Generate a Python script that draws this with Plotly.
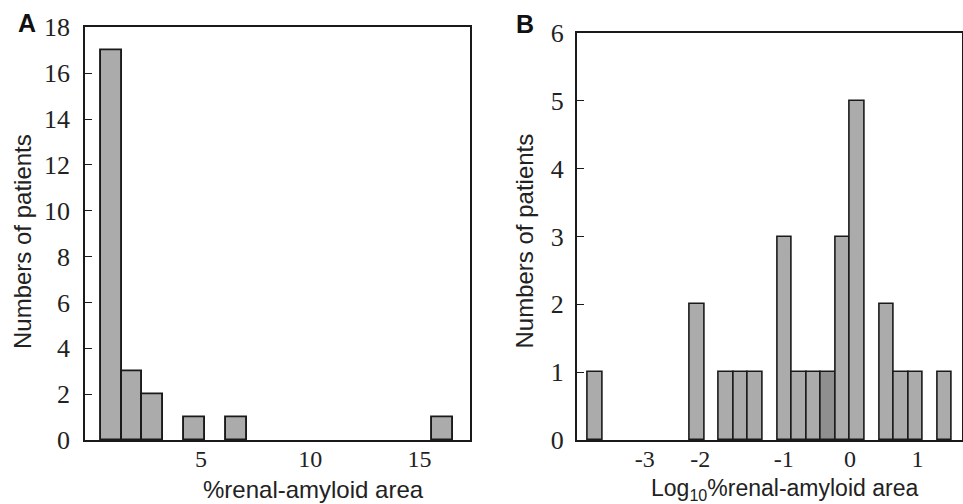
import plotly.graph_objects as go

# Panel A: histogram of %renal-amyloid area (bin centers)
a_centers = [0.886, 1.84, 2.79, 4.70, 6.61, 16.06]
a_counts = [17, 3, 2, 1, 1, 1]
a_bin_width = 0.953
a_xticks = [5, 10, 15]
a_xticktext = ["5", "10", "15"]
a_yticks = [0, 2, 4, 6, 8, 10, 12, 14, 16, 18]

# Panel B: histogram of log10 %renal-amyloid area
b_centers = [-3.778, -2.266, -1.834, -1.618, -1.402, -0.970, -0.754, -0.538,
             -0.322, -0.106, 0.110, 0.542, 0.758, 0.974, 1.406]
b_counts = [1, 2, 1, 1, 1, 3, 1, 1, 1, 3, 5, 2, 1, 1, 1]
b_dark = [False, False, False, False, False, False, False, False,
          True, False, False, False, False, False, False]
b_bin_width = 0.216
b_xticks = [-3.04, -2.22, -0.98, 0, 1.0]
b_xticktext = ["-3", "-2", "-1", "0", "1"]
b_yticks = [0, 1, 2, 3, 4, 5, 6]

FILL = "#ababab"
DARK = "#8f8f8f"
LINE = "#1a1a1a"
SERIF = "Liberation Serif"
SANS = "Liberation Sans"

fig = go.Figure()
fig.add_trace(go.Bar(
    x=a_centers, y=a_counts, width=a_bin_width,
    marker=dict(color=FILL, line=dict(color=LINE, width=1.9)),
    xaxis="x", yaxis="y", showlegend=False, hoverinfo="x+y"))
fig.add_trace(go.Bar(
    x=b_centers, y=b_counts, width=b_bin_width,
    marker=dict(color=[DARK if d else FILL for d in b_dark],
                line=dict(color=LINE, width=1.6)),
    xaxis="x2", yaxis="y2", showlegend=False, hoverinfo="x+y"))

W, H = 963, 504
def fx(px):
    return px / W
def fy(py):
    return 1 - py / H

axis_common = dict(showgrid=False, zeroline=False, showline=True, mirror=True,
                   linecolor=LINE, linewidth=1.6, automargin=False)
YFONT = dict(family=SERIF, size=26, color="#222")
XFONT = dict(family=SERIF, size=24, color="#222")

def label(text, x, y, size, angle=0):
    return dict(text=text, x=fx(x), y=fy(y), xref="paper", yref="paper",
                xanchor="center", yanchor="middle", showarrow=False,
                textangle=angle, font=dict(family=SANS, size=size, color="#222"))

fig.update_layout(
    template="none",
    width=W, height=H,
    margin=dict(l=0, r=0, t=0, b=0, pad=0),
    paper_bgcolor="white", plot_bgcolor="white",
    bargap=0,
    xaxis=dict(domain=[fx(85), fx(470)], range=[-0.31, 17.31],
               tickvals=a_xticks, ticktext=a_xticktext, ticks="",
               tickfont=XFONT, ticklabelstandoff=-4,
               anchor="y", **axis_common),
    yaxis=dict(domain=[fy(440), fy(27.3)], range=[0, 18],
               tickvals=a_yticks, ticks="inside", ticklen=7, tickwidth=1.4,
               tickcolor=LINE, ticklabelstandoff=8, tickfont=YFONT,
               anchor="x", **axis_common),
    xaxis2=dict(domain=[fx(576.7), fx(962)], range=[-4.05, 1.66],
                tickvals=b_xticks, ticktext=b_xticktext, ticks="",
                tickfont=XFONT, ticklabelstandoff=-4,
                anchor="y2", **axis_common),
    yaxis2=dict(domain=[fy(440), fy(33)], range=[0, 6],
                tickvals=b_yticks, ticks="inside", ticklen=7, tickwidth=1.4,
                tickcolor=LINE, ticklabelstandoff=6, tickfont=YFONT,
                anchor="x2", **axis_common),
    annotations=[
        dict(label("<b>A</b>", 27, 23, 25), font=dict(family=SANS, size=25, color="#111")),
        dict(label("<b>B</b>", 524.5, 23.5, 25), font=dict(family=SANS, size=25, color="#111")),
        label("Numbers of patients", 22.5, 241.5, 24, -90),
        label("Numbers of patients", 524, 241.5, 24, -90),
        label("%renal-amyloid area", 313, 489, 24),
        label("Log<sub>10</sub>%renal-amyloid area", 784, 489, 23),
    ],
)

fig.write_html("out.html",
               config={"displayModeBar": False},
               post_script="document.body.style.margin='0';"
                           "document.body.style.overflow='hidden';")
